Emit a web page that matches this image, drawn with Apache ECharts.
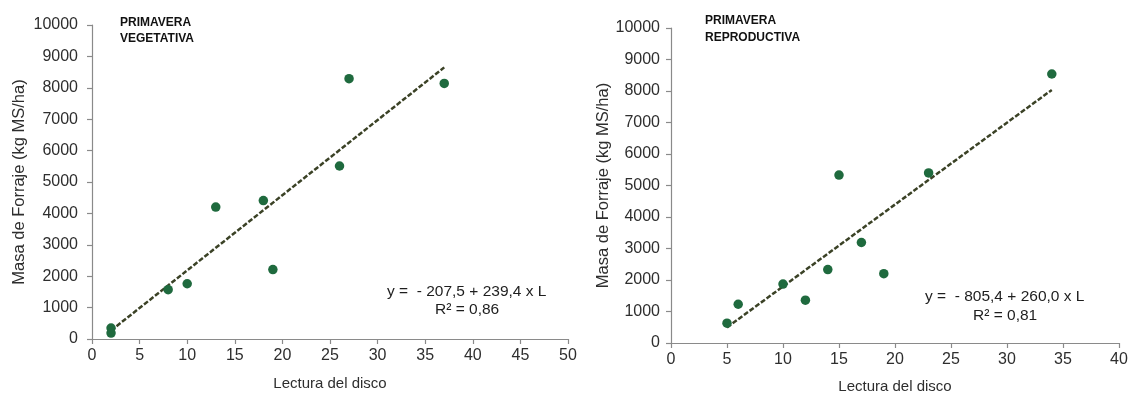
<!DOCTYPE html>
<html>
<head>
<meta charset="utf-8">
<script src="https://cdn.jsdelivr.net/npm/echarts@6/dist/echarts.min.js"></script>
<style>
html,body{margin:0;padding:0;background:#fff;}
#c{width:1132px;height:399px;}
</style>
</head>
<body>
<div id="c"></div>
<script>
// Data
const vegX = [2, 2, 8, 10, 13, 18, 19, 26, 27, 37];
const vegY = [350, 190, 1570, 1760, 4200, 4410, 2210, 5510, 8290, 8140];
const vegTrend = [[2, 270], [37, 8650]];

const repX = [5, 6, 10, 12, 14, 15, 17, 19, 23, 34];
const repY = [630, 1230, 1870, 1360, 2330, 5330, 3190, 2200, 5400, 8540];
const repTrend = [[5, 495], [34, 8035]];

const yTitle = 'Masa de Forraje (kg MS/ha)';
const xTitle = 'Lectura del disco';
const vegHeader = ['PRIMAVERA', 'VEGETATIVA'];
const repHeader = ['PRIMAVERA', 'REPRODUCTIVA'];
const vegEq = ['y =  - 207,5 + 239,4 x L', 'R\u00B2 = 0,86'];
const repEq = ['y =  - 805,4 + 260,0 x L', 'R\u00B2 = 0,81'];

const FONT = '"Liberation Sans", Arial, sans-serif';
const dotColor = '#1f6a3e';
const trendColor = '#3b4226';
const axisColor = '#8a8a8a';
const textColor = '#2e2e2e';

function pairs(xs, ys) { return xs.map((x, i) => [x, ys[i]]); }

function xAxis(gi, max, gap) {
  return {
    type: 'value', gridIndex: gi, min: 0, max: max, interval: 5,
    name: xTitle, nameLocation: 'middle', nameGap: gap,
    nameTextStyle: { fontFamily: FONT, fontSize: 15, color: textColor },
    axisLine: { show: true, onZero: false, lineStyle: { color: axisColor, width: 1.2 } },
    axisTick: { show: true, inside: false, length: 5, lineStyle: { color: axisColor, width: 1.2 } },
    axisLabel: { fontFamily: FONT, fontSize: 16, color: textColor, margin: 9, formatter: v => String(v) },
    splitLine: { show: false }
  };
}
function yAxis(gi, gap, margin) {
  return {
    type: 'value', gridIndex: gi, min: 0, max: 10000, interval: 1000,
    name: yTitle, nameLocation: 'middle', nameGap: gap, nameRotate: 90,
    nameTextStyle: { fontFamily: FONT, fontSize: 16.5, color: textColor },
    axisLine: { show: true, onZero: false, lineStyle: { color: axisColor, width: 1.2 } },
    axisTick: { show: true, inside: false, length: 5, lineStyle: { color: axisColor, width: 1.2 } },
    axisLabel: { fontFamily: FONT, fontSize: 16, color: textColor, margin: margin, formatter: v => String(v) },
    splitLine: { show: false }
  };
}
function scatter(gi, data) {
  return {
    type: 'scatter', xAxisIndex: gi, yAxisIndex: gi, data: data,
    symbol: 'circle', symbolSize: 9.5, z: 3,
    itemStyle: { color: dotColor, opacity: 1 }
  };
}
function trend(gi, data) {
  return {
    type: 'line', xAxisIndex: gi, yAxisIndex: gi, data: data,
    symbol: 'none', z: 2, silent: true,
    lineStyle: { color: trendColor, width: 2.5, type: [5, 2] }
  };
}
function txt(x, y, s, size, weight, color) {
  return {
    type: 'text', left: x, top: y,
    style: { text: s, fontFamily: FONT, fontSize: size, fontWeight: weight, fill: color, textVerticalAlign: 'top' }
  };
}

const chart = echarts.init(document.getElementById('c'), null, { renderer: 'canvas' });
chart.setOption({
  animation: false,
  backgroundColor: '#ffffff',
  grid: [
    { left: 92, top: 25, width: 476, height: 314 },
    { left: 671, top: 28, width: 448, height: 318 }
  ],
  xAxis: [xAxis(0, 50, 37), xAxis(1, 40, 36)],
  yAxis: [yAxis(0, 64, 14), yAxis(1, 55, 11)],
  series: [
    trend(0, vegTrend), scatter(0, pairs(vegX, vegY)),
    trend(1, repTrend), scatter(1, pairs(repX, repY))
  ],
  graphic: [
    txt(120, 17, vegHeader[0], 12, 'bold', '#111'),
    txt(120, 33, vegHeader[1], 12, 'bold', '#111'),
    txt(705, 15, repHeader[0], 12, 'bold', '#111'),
    txt(705, 32, repHeader[1], 12, 'bold', '#111'),
    txt(387, 284, vegEq[0], 15.5, 'normal', '#1e1e1e'),
    txt(435, 302, vegEq[1], 15.5, 'normal', '#1e1e1e'),
    txt(925, 289, repEq[0], 15.5, 'normal', '#1e1e1e'),
    txt(973, 308, repEq[1], 15.5, 'normal', '#1e1e1e')
  ]
});
</script>
</body>
</html>
